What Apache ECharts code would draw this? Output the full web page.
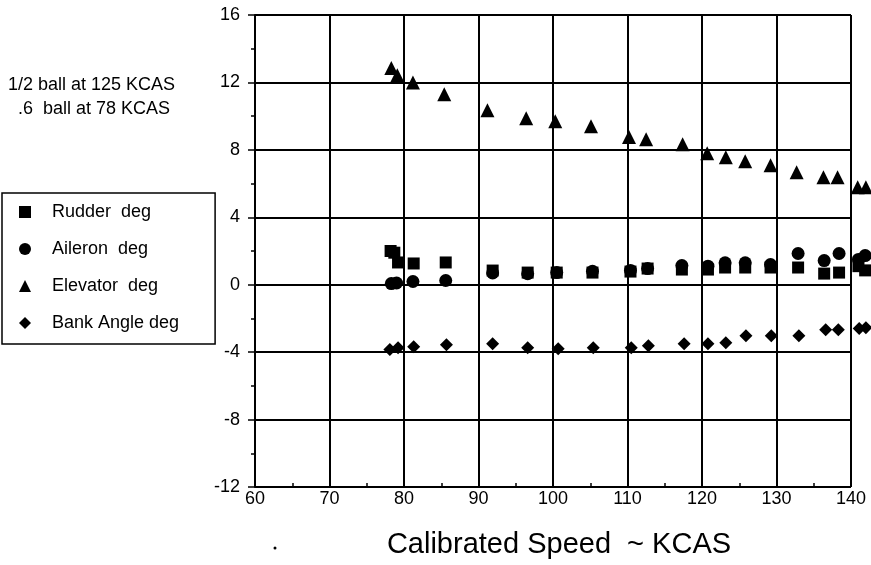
<!DOCTYPE html>
<html>
<head>
<meta charset="utf-8">
<script src="https://cdn.jsdelivr.net/npm/echarts@6/dist/echarts.min.js"></script>
<style>html,body{margin:0;padding:0;background:#fff;}#c{width:871px;height:565px;}</style>
</head>
<body>
<div id="c"></div>
<script>
// ---- data ----
var xTicks = [60, 70, 80, 90, 100, 110, 120, 130, 140];
var yTicks = [-12, -8, -4, 0, 4, 8, 12, 16];

var rudderX = [78.2, 78.7, 79.2, 81.3, 85.6, 91.9, 96.6, 100.5, 105.3, 110.4, 112.7, 117.3, 120.8, 123.1, 125.8, 129.2, 132.9, 136.4, 138.4, 141.0, 141.9];
var rudderY = [2.0, 1.9, 1.32, 1.26, 1.32, 0.84, 0.72, 0.72, 0.72, 0.78, 0.96, 0.9, 0.9, 1.02, 1.02, 1.02, 1.02, 0.66, 0.72, 1.1, 0.85];

var aileronX = [78.3, 79.0, 81.2, 85.6, 91.9, 96.6, 100.5, 105.3, 110.4, 112.7, 117.3, 120.8, 123.1, 125.8, 129.2, 132.9, 136.4, 138.4, 141.0, 141.9];
var aileronY = [0.07, 0.1, 0.19, 0.25, 0.7, 0.65, 0.72, 0.8, 0.85, 0.96, 1.14, 1.1, 1.3, 1.3, 1.2, 1.85, 1.43, 1.85, 1.5, 1.73];

var elevatorX = [78.3, 79.1, 81.2, 85.4, 91.2, 96.4, 100.3, 105.1, 110.2, 112.5, 117.4, 120.7, 123.2, 125.8, 129.2, 132.7, 136.3, 138.2, 140.9, 142.0];
var elevatorY = [12.85, 12.43, 12.0, 11.3, 10.35, 9.88, 9.7, 9.4, 8.76, 8.63, 8.33, 7.8, 7.56, 7.32, 7.08, 6.67, 6.37, 6.37, 5.78, 5.78];

var bankX = [78.1, 79.2, 81.3, 85.7, 91.9, 96.6, 100.7, 105.4, 110.5, 112.8, 117.6, 120.8, 123.2, 125.9, 129.3, 133.0, 136.6, 138.3, 141.1, 142.0];
var bankY = [-3.85, -3.74, -3.68, -3.56, -3.5, -3.74, -3.8, -3.74, -3.74, -3.62, -3.5, -3.5, -3.44, -3.03, -3.03, -3.03, -2.67, -2.67, -2.6, -2.55];

var seriesNames = ['Rudder  deg', 'Aileron  deg', 'Elevator  deg', 'Bank Angle deg'];
var noteLines = ['1/2 ball at 125 KCAS', '.6  ball at 78 KCAS'];
var xTitle = 'Calibrated Speed  ~ KCAS';

function pairs(xs, ys) { return xs.map(function (x, i) { return [x, ys[i]]; }); }

var FONT = '"Liberation Sans", Arial, Helvetica, sans-serif';
var chart = echarts.init(document.getElementById('c'), null, { renderer: 'canvas' });

function sc(name, symbol, size, xs, ys) {
  return {
    type: 'scatter', name: name, symbol: symbol, symbolSize: size,
    data: pairs(xs, ys), clip: false, xAxisIndex: 0, yAxisIndex: 0,
    itemStyle: { color: '#000', opacity: 1 },
    emphasis: { disabled: true }
  };
}

var xMin = xTicks[0], xMax = xTicks[xTicks.length - 1];

chart.setOption({
  animation: false,
  backgroundColor: '#fff',
  textStyle: { fontFamily: FONT, color: '#000' },
  grid: { left: 255, right: 20, top: 15, bottom: 78, containLabel: false },
  xAxis: [{
    type: 'value', min: xMin, max: xMax, interval: 10,
    axisLine: { show: true, lineStyle: { color: '#000', width: 2 } },
    axisTick: { show: true, length: 7, lineStyle: { color: '#000', width: 1.5 } },
    splitLine: { show: true, lineStyle: { color: '#000', width: 2 } },
    axisLabel: { color: '#000', fontSize: 18, fontFamily: FONT, margin: 3 },
    name: xTitle, nameLocation: 'middle', nameGap: 43,
    nameTextStyle: { color: '#000', fontSize: 29, fontFamily: FONT, padding: [0, 0, 0, 12] }
  }, {
    type: 'value', min: xMin, max: xMax, interval: 10, position: 'bottom',
    axisLine: { show: false },
    axisTick: { show: false, inside: true },
    minorTick: { show: true, splitNumber: 2, length: 4, lineStyle: { color: '#000', width: 1.5 } },
    splitLine: { show: false },
    axisLabel: { show: false }
  }],
  yAxis: {
    type: 'value', min: yTicks[0], max: yTicks[yTicks.length - 1], interval: 4,
    axisLine: { show: true, lineStyle: { color: '#000', width: 2 } },
    axisTick: { show: true, length: 7, lineStyle: { color: '#000', width: 1.5 } },
    minorTick: { show: true, splitNumber: 2, length: 4, lineStyle: { color: '#000', width: 1.5 } },
    splitLine: { show: true, lineStyle: { color: '#000', width: 2 } },
    axisLabel: { color: '#000', fontSize: 18, fontFamily: FONT, margin: 15 }
  },
  legend: {
    orient: 'vertical', left: 2, top: 193,
    itemWidth: 12, itemHeight: 12, itemGap: 19,
    padding: [10, 36, 12, 17],
    borderColor: '#000', borderWidth: 1.5,
    textStyle: { color: '#000', fontSize: 18, fontFamily: FONT, padding: [0, 0, 0, 16] },
    data: seriesNames,
    selectedMode: false
  },
  graphic: [
    { type: 'text', left: 8, top: 76, style: { text: noteLines[0], font: '18px ' + FONT, fill: '#000' } },
    { type: 'text', left: 18, top: 100, style: { text: noteLines[1], font: '18px ' + FONT, fill: '#000' } },
    { type: 'circle', shape: { cx: 275, cy: 548, r: 1.5 }, style: { fill: '#000' } }
  ],
  series: [
    sc(seriesNames[0], 'rect', 12, rudderX, rudderY),
    sc(seriesNames[1], 'circle', 13, aileronX, aileronY),
    sc(seriesNames[2], 'triangle', 14, elevatorX, elevatorY),
    sc(seriesNames[3], 'diamond', 13, bankX, bankY)
  ]
});
</script>
</body>
</html>
